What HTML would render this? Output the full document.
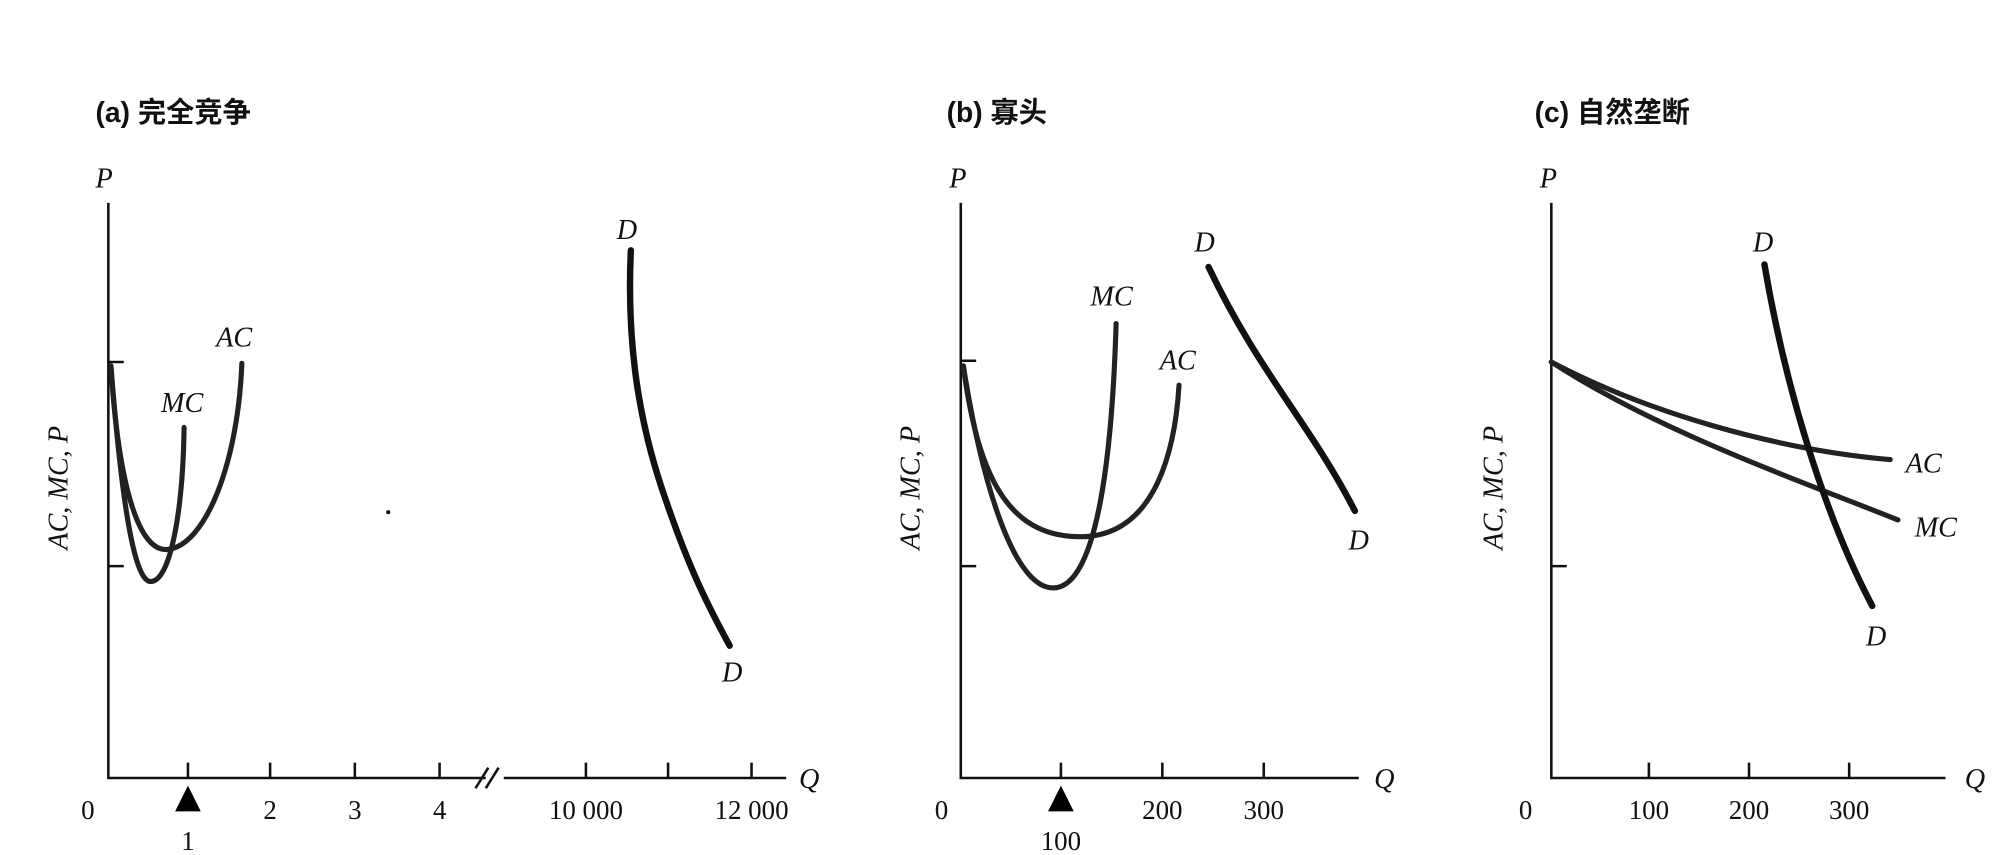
<!DOCTYPE html>
<html><head><meta charset="utf-8"><style>html,body{margin:0;padding:0;background:#fff}svg{display:block}
.t{font-family:"Liberation Sans","Noto Sans CJK SC",sans-serif;font-weight:bold;font-size:22px}
.i{font-family:"Liberation Serif",serif;font-style:italic;font-size:22px}
.n{font-family:"Liberation Serif",serif;font-size:21px}
</style></head><body>
<svg width="2014" height="855" viewBox="0 0 1568 666" xmlns="http://www.w3.org/2000/svg">
<rect width="1568" height="666" fill="#fff"/>
<g fill="none" stroke="#111" stroke-width="2">
<path d="M84 158V606H378M392 606H612"/>
<path d="M84 282H96M84 441H96"/>
<path d="M146 606v-12M210 606v-12M276 606v-12M342 606v-12M456 606v-12M520 606v-12M585 606v-12"/>
<path d="M370 614l10-16M378 614l10-16"/>
<path d="M748 158V606H1058M748 281H760M748 441H760M826 606v-12M905 606v-12M984 606v-12"/>
<path d="M1208 158V606H1515M1208 441H1220M1284 606v-12M1362 606v-12M1440 606v-12"/>
</g>
<circle cx="302" cy="399" r="1.6" fill="#111"/>
<g fill="none" stroke="#222" stroke-width="4" stroke-linecap="round">
<path d="M86 285C92 380 108 430 130 428C160 425 185 360 188 283"/>
<path d="M86 285C95 400 105 453 117 453C132 453 142 400 143 333"/>
<path d="M750 285C762 380 790 420 845 418C900 415 915 350 918 300"/>
<path d="M750 285C765 380 790 458 820 458C855 458 866 350 869 252"/>
<path d="M1208 282C1280 320 1380 350 1472 358"/>
<path d="M1208 282C1290 335 1390 370 1478 405"/>
</g>
<g fill="none" stroke="#111" stroke-width="5" stroke-linecap="round">
<path d="M491 195C488 260 495 320 515 380C535 440 550 470 568 503"/>
<path d="M941 208C980 290 1020 330 1055 398"/>
<path d="M1374 206C1390 300 1420 400 1458 472"/>
</g>
<polygon points="146,612 136,632 156,632" fill="#000"/>
<polygon points="826,612 816,632 836,632" fill="#000"/>
<g fill="#111">
<text class="t" x="74" y="95">(a) 完全竞争</text>
<text class="t" x="737" y="95">(b) 寡头</text>
<text class="t" x="1195" y="95">(c) 自然垄断</text>
<g class="i">
<text x="74" y="146">P</text><text x="739" y="146">P</text><text x="1199" y="146">P</text>
<text x="622" y="614">Q</text><text x="1070" y="614">Q</text><text x="1530" y="614">Q</text>
<text x="480" y="186">D</text><text x="562" y="531">D</text>
<text x="168" y="270">AC</text><text x="125" y="321">MC</text>
<text x="849" y="238">MC</text><text x="903" y="288">AC</text>
<text x="930" y="196">D</text><text x="1050" y="428">D</text>
<text x="1365" y="196">D</text><text x="1453" y="503">D</text>
<text x="1484" y="368">AC</text><text x="1491" y="418">MC</text>
<text transform="translate(52,380) rotate(-90)" text-anchor="middle">AC, MC, P</text>
<text transform="translate(716,380) rotate(-90)" text-anchor="middle">AC, MC, P</text>
<text transform="translate(1170,380) rotate(-90)" text-anchor="middle">AC, MC, P</text>
</g>
<g class="n" text-anchor="middle">
<text x="68" y="638">0</text><text x="210" y="638">2</text><text x="276" y="638">3</text><text x="342" y="638">4</text>
<text x="456" y="638">10 000</text><text x="585" y="638">12 000</text><text x="146" y="662">1</text>
<text x="733" y="638">0</text><text x="905" y="638">200</text><text x="984" y="638">300</text><text x="826" y="662">100</text>
<text x="1188" y="638">0</text><text x="1284" y="638">100</text><text x="1362" y="638">200</text><text x="1440" y="638">300</text>
</g>
</g>
</svg>
</body></html>
